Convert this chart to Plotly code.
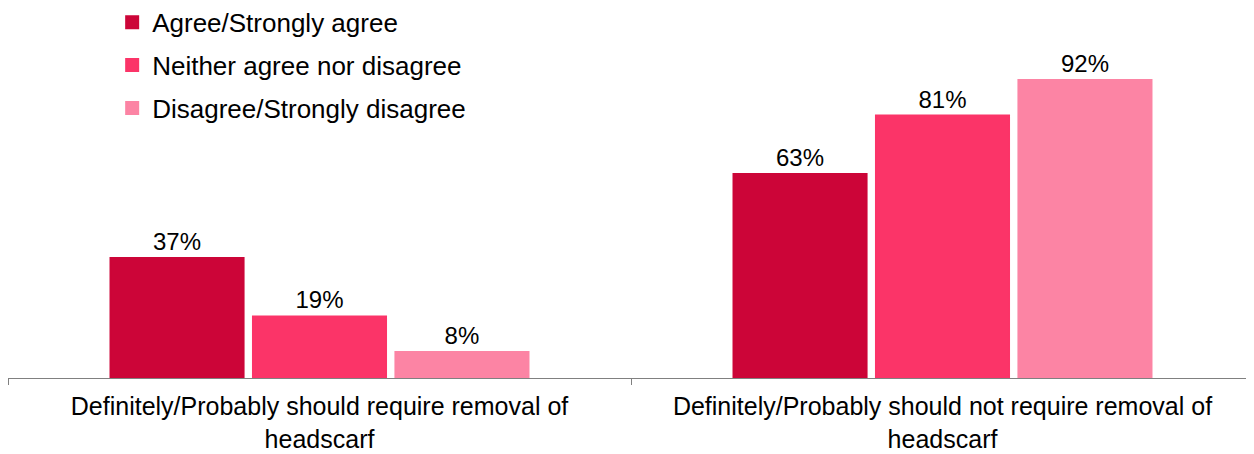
import plotly.graph_objects as go

categories = ["Definitely/Probably should require removal of<br>headscarf",
              "Definitely/Probably should not require removal of<br>headscarf"]
series_names = ["Agree/Strongly agree", "Neither agree nor disagree", "Disagree/Strongly disagree"]
agree = [37, 63]
neither = [19, 81]
disagree = [8, 92]
colors = ["#CC0538", "#FB3468", "#FC84A4"]

fig = go.Figure()
for i, (name, vals) in enumerate(zip(series_names, [agree, neither, disagree])):
    fig.add_trace(go.Bar(
        x=categories, y=vals, name=name, legendgroup=str(i),
        marker=dict(color=colors[i], line=dict(width=2, color=colors[i])),
        text=[f"{v}%" for v in vals], textposition="outside",
        textfont=dict(size=24, color="#000000", family="Liberation Sans, Arial"),
        cliponaxis=False,
    ))

# page body has an 8px margin, so the figure is offset by (8, 8)
fig.update_layout(
    width=1246, height=446,
    margin=dict(l=0, r=0, t=46, b=76, autoexpand=False),
    barmode="group", bargap=0.314, bargroupgap=0.066,
    plot_bgcolor="white", paper_bgcolor="white",
    font=dict(family="Liberation Sans, Arial", color="#000000"),
    showlegend=True,
    legend=dict(x=0.0836, y=1.17, xref="paper", yref="paper", xanchor="left", yanchor="top",
                font=dict(size=26), traceorder="grouped", tracegroupgap=6,
                bgcolor="rgba(0,0,0,0)", itemwidth=30),
    xaxis=dict(showline=True, linecolor="#808080", linewidth=1, ticks="outside",
               tickson="boundaries", ticklen=6, tickcolor="#808080", ticklabelstandoff=6,
               tickfont=dict(size=25), showgrid=False, automargin=False),
    yaxis=dict(range=[0, 100], visible=False, showgrid=False),
)
fig.write_html("out.html")
